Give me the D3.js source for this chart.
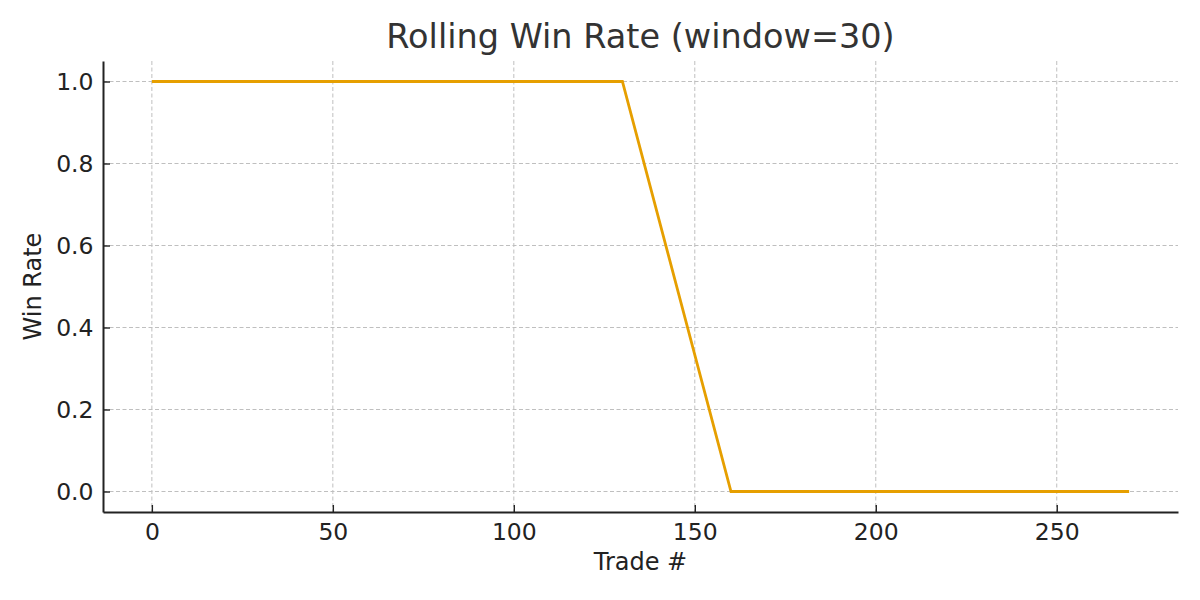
<!DOCTYPE html>
<html>
<head>
<meta charset="utf-8">
<title>Rolling Win Rate</title>
<script src="https://cdnjs.cloudflare.com/ajax/libs/d3/7.8.5/d3.min.js"></script>
<style>
  body { margin: 0; background: #fff; }
  svg { font-family: "DejaVu Sans", sans-serif; }
</style>
</head>
<body>
<div id="chart"></div>
<script>
// breakpoints of the rolling win rate curve
var trades = [0, 130, 160, 270]
var winRate = [1, 1, 0, 0]
var xTicks = [0, 50, 100, 150, 200, 250]
var yTicks = [0, 0.2, 0.4, 0.6, 0.8, 1.0]

var WIDTH = 1200, HEIGHT = 600
var margin = {top: 61, right: 22, bottom: 88, left: 103}

var svg = d3.select("#chart").append("svg")
  .attr("width", WIDTH)
  .attr("height", HEIGHT)

var x = d3.scaleLinear().domain([-13.5, 283.5]).range([margin.left, WIDTH - margin.right])
var y = d3.scaleLinear().domain([-0.05, 1.05]).range([HEIGHT - margin.bottom, margin.top])

// grid
svg.append("g").selectAll("line").data(xTicks).enter().append("line")
  .attr("x1", d => x(d)).attr("x2", d => x(d))
  .attr("y1", margin.top).attr("y2", HEIGHT - margin.bottom)
  .attr("stroke", "#bfbfbf").attr("stroke-width", 1)
  .attr("stroke-dasharray", "4,2.5")
svg.append("g").selectAll("line").data(yTicks).enter().append("line")
  .attr("x1", margin.left).attr("x2", WIDTH - margin.right)
  .attr("y1", d => y(d)).attr("y2", d => y(d))
  .attr("stroke", "#bfbfbf").attr("stroke-width", 1)
  .attr("stroke-dasharray", "4,2.5")

// line
var pts = trades.map((t, i) => [t, winRate[i]])
svg.append("path")
  .datum(pts)
  .attr("fill", "none")
  .attr("stroke", "#E69F00")
  .attr("stroke-width", 2.8)
  .attr("d", d3.line().x(d => x(d[0])).y(d => y(d[1])))

// axes, ticks point inward like the original
var xAxis = svg.append("g")
  .attr("transform", "translate(0," + (HEIGHT - margin.bottom) + ")")
  .call(d3.axisBottom(x).tickValues(xTicks).tickSizeInner(-7).tickSizeOuter(0).tickPadding(11).tickFormat(d3.format("d")))
var yAxis = svg.append("g")
  .attr("transform", "translate(" + margin.left + ",0)")
  .call(d3.axisLeft(y).tickValues(yTicks).tickSizeInner(-7).tickSizeOuter(0).tickPadding(9.5).tickFormat(d3.format(".1f")))

;[xAxis, yAxis].forEach(function(a) {
  a.attr("font-size", 23.5).attr("font-family", "DejaVu Sans, sans-serif")
  a.select(".domain").attr("stroke", "#222").attr("stroke-width", 2)
  a.selectAll(".tick line").attr("stroke", "#222").attr("stroke-width", 1.4)
  a.selectAll(".tick text").attr("fill", "#222")
})

// labels
svg.append("text")
  .attr("x", (margin.left + WIDTH - margin.right) / 2)
  .attr("y", 570)
  .attr("text-anchor", "middle")
  .attr("fill", "#222")
  .attr("font-size", 24)
  .text("Trade #")

svg.append("text")
  .attr("transform", "translate(41," + ((margin.top + HEIGHT - margin.bottom) / 2) + ") rotate(-90)")
  .attr("text-anchor", "middle")
  .attr("fill", "#222")
  .attr("font-size", 24)
  .text("Win Rate")

svg.append("text")
  .attr("x", (margin.left + WIDTH - margin.right) / 2)
  .attr("y", 47.5)
  .attr("text-anchor", "middle")
  .attr("fill", "#333")
  .attr("font-size", 33.5)
  .text("Rolling Win Rate (window=30)")
</script>
</body>
</html>
